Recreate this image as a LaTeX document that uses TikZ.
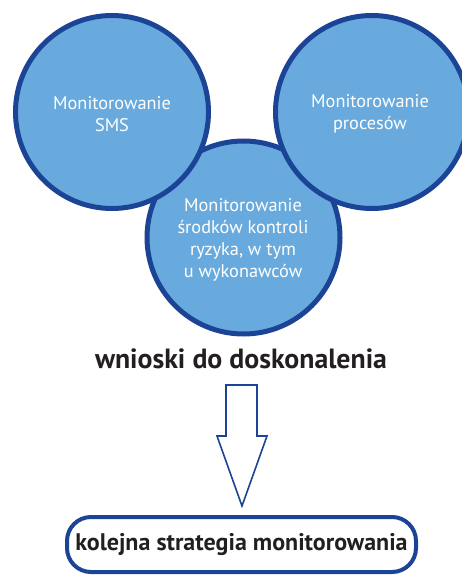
\documentclass[tikz,border=0pt]{standalone}
\usepackage{fontspec}
\setmainfont{PT Sans}
\definecolor{discfill}{RGB}{104,170,221}
\definecolor{discline}{RGB}{28,68,150}
\definecolor{inkdark}{RGB}{35,31,32}
\begin{document}
\begin{tikzpicture}[x=1pt,y=-1pt,
  disc/.style={circle,draw=discline,fill=discfill,line width=5pt,
    minimum size=193pt,inner sep=0pt},
  disctext/.style={text=white,align=center,font=\fontsize{18.3}{22}\selectfont},
  heading/.style={text=inkdark,font=\bfseries\fontsize{27.8}{30}\selectfont},
  outcome/.style={draw=discline,line width=4pt,rounded corners=24pt,
    minimum width=349pt,minimum height=55pt,inner sep=0pt,
    text=inkdark,font=\bfseries\fontsize{24}{26}\selectfont},
  blockarrow/.style={draw=discline,fill=white,line width=1.6pt,line join=miter}]
\useasboundingbox (0,0) rectangle (462,575);
% the lower disc lies under the two upper ones
\node[disc] (risk) at (243.5,237.5) {};
\node[disc] (sms) at (112,112) {};
\node[disc] (proc) at (372,112) {};
\node[disctext] (smstext) at (112,114) {Monitorowanie\\SMS};
\node[disctext] (proctext) at (370,114) {Monitorowanie\\procesów};
\node[disctext] (risktext) at (243,240) {Monitorowanie\\środków kontroli\\ryzyka, w tym\\u wykonawców};
% conclusions and the next strategy
\node[heading] (conclusions) at (241,359) {wnioski do doskonalenia};
\node[outcome] (next) at (241.5,544.5) {kolejna strategia monitorowania};
% hollow block arrow between them
\draw[blockarrow] (226,385) -- (257,385) -- (257,436) -- (267,436)
  -- (242,506) -- (217,436) -- (226,436) -- cycle;
\end{tikzpicture}
\end{document}
